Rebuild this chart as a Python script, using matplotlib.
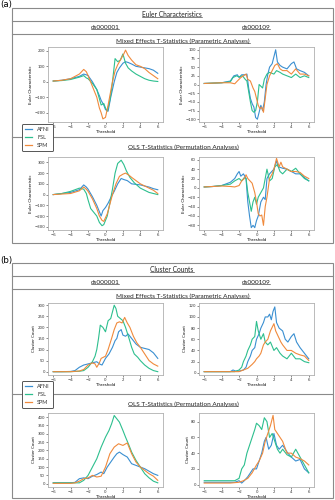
import matplotlib
matplotlib.use('Agg')
import matplotlib.pyplot as plt
from matplotlib.lines import Line2D
from matplotlib.patches import Rectangle
import numpy as np

W, H = 335, 500

SOFTWARE = ['AFNI', 'FSL', 'SPM']
COLORS = ['#3a8fd1', '#2dbf8e', '#f08a3c']
DATASETS = ['ds000001', 'ds000109']
ROWS = ['Mixed Effects T-Statistics (Parametric Analyses)',
        'OLS T-Statistics (Permutation Analyses)']

# ---- (a) Euler characteristics: (threshold, value) pairs ----
EC_ME_DS1_AFNI = [(-6,5),(-5,10),(-4,20),(-3,35),(-2.5,50),(-2.2,45),(-2,40),(-1.5,0),(-1,-50),(-0.7,-90),(-0.5,-120),(-0.2,-150),(0,-180),(0.3,-190),(0.6,-100),(1,0),(1.3,60),(1.6,90),(2,120),(2.3,130),(2.6,125),(3,115),(3.5,100),(4,95),(4.5,90),(5,85),(5.5,75),(6,55)]
EC_ME_DS1_FSL = [(-6,5),(-5,8),(-4,15),(-3,30),(-2.5,40),(-2.2,25),(-2,20),(-1.5,-10),(-1,-50),(-0.7,-110),(-0.5,-150),(-0.2,-140),(0,-170),(0.2,-190),(0.5,-120),(0.7,-50),(1,100),(1.1,150),(1.4,130),(1.7,140),(2,180),(2.3,120),(2.6,90),(3,70),(3.5,50),(4,35),(4.5,20),(5,10),(5.5,5),(6,2)]
EC_ME_DS1_SPM = [(-6,5),(-5,10),(-4,20),(-3,50),(-2.5,80),(-2.2,65),(-2,40),(-1.5,-30),(-1,-100),(-0.7,-170),(-0.5,-200),(-0.3,-240),(0,-230),(0.3,-150),(0.6,-60),(0.8,0),(1.1,70),(1.4,110),(1.8,150),(2.1,180),(2.3,205),(2.6,170),(3,140),(3.5,110),(4,100),(4.5,85),(5,60),(5.5,40),(6,20)]

EC_ME_DS2_AFNI = [(-6,3),(-5,4),(-4,5),(-3,10),(-2.6,25),(-2.2,28),(-2,20),(-1.7,28),(-1.3,28),(-1.1,30),(-0.9,-10),(-0.7,-40),(-0.5,-55),(-0.3,-65),(-0.1,-95),(0.1,-100),(0.3,-80),(0.5,-60),(0.7,-75),(0.9,-50),(1.1,0),(1.3,30),(1.5,50),(1.8,60),(2.2,100),(2.4,65),(2.7,55),(3,50),(3.5,45),(4,60),(4.3,65),(4.6,45),(5,40),(5.5,35),(6,25)]
EC_ME_DS2_FSL = [(-6,3),(-5,4),(-4,5),(-3,8),(-2.7,20),(-2.3,25),(-2,22),(-1.6,25),(-1.3,15),(-1.1,10),(-0.9,-20),(-0.7,-50),(-0.5,-75),(-0.3,-80),(-0.1,-75),(0.1,-50),(0.3,0),(0.5,-5),(0.7,-10),(0.9,15),(1.2,30),(1.5,35),(2,30),(2.3,40),(2.7,35),(3,30),(3.5,25),(4,20),(4.5,30),(5,20),(5.5,25),(6,20)]
EC_ME_DS2_SPM = [(-6,3),(-5,4),(-4,5),(-3,5),(-2.5,2),(-2.2,10),(-1.8,20),(-1.5,25),(-1.2,30),(-1,15),(-0.7,10),(-0.4,-10),(-0.2,-20),(0,-40),(0.2,-60),(0.4,-70),(0.6,-65),(0.8,-80),(1,-40),(1.2,0),(1.5,25),(1.8,40),(2.1,55),(2.4,60),(2.7,45),(3,40),(3.5,40),(4,30),(4.5,45),(5,30),(5.5,30),(6,25)]

EC_OLS_DS1_AFNI = [(-6,0),(-5,10),(-4,20),(-3,45),(-2.5,90),(-2.2,70),(-2,50),(-1.5,-20),(-1,-100),(-0.7,-160),(-0.5,-200),(-0.3,-150),(0,-120),(0.3,-80),(0.6,-30),(1,30),(1.4,100),(1.8,150),(2.1,140),(2.5,130),(3,100),(3.5,95),(4,90),(4.5,80),(5,70),(5.5,55),(6,45)]
EC_OLS_DS1_FSL = [(-6,0),(-5,10),(-4,30),(-3,60),(-2.5,50),(-2.2,10),(-2,-50),(-1.7,-130),(-1.5,-150),(-1,-200),(-0.7,-260),(-0.4,-290),(-0.2,-280),(0.2,-200),(0.5,-80),(0.8,50),(1.1,200),(1.4,290),(1.8,320),(2.1,280),(2.4,220),(2.8,160),(3.3,110),(4,60),(4.5,40),(5,20),(5.5,10),(6,0)]
EC_OLS_DS1_SPM = [(-6,0),(-5,5),(-4,10),(-3,35),(-2.5,70),(-2.2,50),(-2,30),(-1.5,-40),(-1,-130),(-0.7,-200),(-0.4,-240),(-0.2,-250),(0.2,-180),(0.5,-90),(0.8,0),(1.2,100),(1.6,170),(2,190),(2.3,200),(2.7,180),(3,160),(3.5,130),(4,100),(4.5,80),(5,60),(5.5,40),(6,10)]

EC_OLS_DS2_AFNI = [(-6,2),(-5,3),(-4,5),(-3,12),(-2.5,20),(-2.2,30),(-2,35),(-1.8,25),(-1.5,30),(-1.2,20),(-1,-30),(-0.8,-60),(-0.6,-85),(-0.4,-80),(-0.2,-85),(0,-70),(0.2,-60),(0.5,-30),(0.8,-20),(1,-25),(1.2,20),(1.5,30),(2,40),(2.3,58),(2.5,45),(3,42),(3.5,40),(4,35),(4.5,30),(5,30),(5.5,22),(6,15)]
EC_OLS_DS2_FSL = [(-6,2),(-5,3),(-4,5),(-3,8),(-2.5,15),(-2,20),(-1.7,15),(-1.4,22),(-1.2,20),(-1,-10),(-0.8,-30),(-0.6,-50),(-0.4,-30),(-0.2,-20),(0,-35),(0.2,-20),(0.5,-10),(0.8,0),(1.2,40),(1.5,15),(1.8,20),(2.1,45),(2.4,50),(2.7,35),(3,30),(3.5,40),(4,35),(4.5,42),(5,30),(5.5,20),(6,15)]
EC_OLS_DS2_SPM = [(-6,2),(-5,3),(-4,4),(-3,3),(-2.5,2),(-2,5),(-1.7,15),(-1.4,20),(-1.2,28),(-1,20),(-0.5,10),(-0.2,-10),(0,-30),(0.2,-55),(0.4,-60),(0.6,-58),(0.8,-80),(1,-40),(1.2,-20),(1.5,20),(1.8,30),(2,40),(2.3,63),(2.6,45),(2.8,55),(3,45),(3.5,40),(4,35),(4.5,35),(5,33),(5.5,25),(6,20)]

# ---- (b) cluster counts ----
CC_ME_DS1_AFNI = [(-6,0),(-5,0),(-4,1),(-3.5,5),(-3,20),(-2.5,30),(-2,35),(-1.5,40),(-1,45),(-0.7,35),(-0.4,30),(0,60),(0.4,80),(0.8,110),(1.1,140),(1.3,150),(1.5,180),(1.8,190),(2,165),(2.3,160),(2.6,170),(3,150),(3.5,125),(4,110),(4.5,105),(5,100),(5.5,85),(6,60)]
CC_ME_DS1_FSL = [(-6,0),(-5,0),(-4,0),(-3,2),(-2.5,5),(-2,20),(-1.5,45),(-1.2,70),(-1,100),(-0.8,150),(-0.6,210),(-0.3,200),(0,180),(0.3,230),(0.6,240),(0.8,270),(1,300),(1.2,285),(1.4,250),(1.7,240),(2,230),(2.3,200),(2.7,150),(3,110),(3.3,80),(3.7,65),(4,50),(4.5,30),(5,15),(5.5,5),(6,0)]
CC_ME_DS1_SPM = [(-6,0),(-5,0),(-4,0),(-3,3),(-2.5,10),(-2,30),(-1.5,40),(-1.2,35),(-1,20),(-0.7,40),(-0.5,60),(0,70),(0.3,100),(0.7,150),(1,190),(1.3,220),(1.6,225),(1.9,220),(2.2,245),(2.5,220),(2.8,200),(3.2,160),(3.6,130),(4,110),(4.5,80),(5,50),(5.5,35),(6,25)]

CC_ME_DS2_AFNI = [(-6,2),(-4,2),(-3,2),(-2.7,5),(-2.4,3),(-2,3),(-1.5,5),(-1.2,10),(-1,20),(-0.7,30),(-0.5,40),(-0.2,45),(0,60),(0.3,70),(0.5,80),(0.8,90),(1,100),(1.3,100),(1.5,105),(1.7,95),(1.9,110),(2.1,118),(2.3,90),(2.6,80),(3,75),(3.3,60),(3.6,55),(4,65),(4.3,70),(4.6,55),(5,45),(5.5,35),(6,25)]
CC_ME_DS2_FSL = [(-6,2),(-4,2),(-3,2),(-2.5,2),(-2,5),(-1.7,10),(-1.5,20),(-1.2,30),(-1,40),(-0.7,50),(-0.5,60),(-0.2,65),(0,92),(0.2,75),(0.5,60),(0.8,70),(1,55),(1.3,50),(1.6,55),(2,40),(2.3,45),(2.7,35),(3,30),(3.5,25),(4,35),(4.5,25),(5,25),(5.5,20),(6,18)]
CC_ME_DS2_SPM = [(-6,2),(-4,2),(-3,2),(-2,2),(-1.5,5),(-1,8),(-0.5,15),(-0.2,20),(0,25),(0.3,30),(0.5,35),(0.8,50),(1,55),(1.3,60),(1.6,75),(2,88),(2.2,75),(2.5,65),(2.8,55),(3,50),(3.5,40),(4,40),(4.5,35),(5,32),(5.5,30),(6,22)]

CC_OLS_DS1_AFNI = [(-6,5),(-5,5),(-4,5),(-3.5,8),(-3,30),(-2.5,35),(-2,30),(-1.5,45),(-1,55),(-0.5,70),(-0.2,60),(0.2,100),(0.6,130),(1,160),(1.3,180),(1.6,190),(2,175),(2.5,160),(3,120),(3.5,110),(4,100),(4.5,90),(5,75),(5.5,60),(6,50)]
CC_OLS_DS1_FSL = [(-6,5),(-5,5),(-4,5),(-3,5),(-2.5,20),(-2,50),(-1.5,100),(-1,150),(-0.5,220),(0,280),(0.4,320),(0.7,360),(1,410),(1.3,390),(1.6,370),(2,320),(2.3,280),(2.7,230),(3,190),(3.5,140),(4,100),(4.5,60),(5,35),(5.5,15),(6,5)]
CC_OLS_DS1_SPM = [(-6,2),(-5,2),(-4,2),(-3.5,5),(-3,15),(-2.5,30),(-2,35),(-1.5,50),(-1,40),(-0.5,45),(0,100),(0.5,180),(1,220),(1.5,240),(2,230),(2.5,245),(3,180),(3.5,130),(4,100),(4.5,80),(5,60),(5.5,45),(6,20)]

CC_OLS_DS2_AFNI = [(-6,3),(-4,3),(-3,3),(-2.5,3),(-2,5),(-1.7,2),(-1.4,5),(-1,10),(-0.7,15),(-0.4,20),(0,20),(0.3,30),(0.6,40),(0.9,55),(1.1,60),(1.4,45),(1.7,50),(2,65),(2.3,50),(2.6,45),(3,50),(3.3,45),(3.6,40),(4,35),(4.5,30),(5,32),(5.5,20),(6,15)]
CC_OLS_DS2_FSL = [(-6,5),(-4,5),(-3,5),(-2.5,5),(-2,8),(-1.7,20),(-1.4,25),(-1.1,40),(-0.8,50),(-0.5,60),(-0.2,70),(0,78),(0.3,75),(0.6,70),(0.9,85),(1.2,80),(1.5,60),(1.8,65),(2.1,55),(2.4,45),(2.7,40),(3,45),(3.5,38),(4,35),(4.5,45),(5,35),(5.5,25),(6,15)]
CC_OLS_DS2_SPM = [(-6,2),(-4,2),(-3,2),(-2,3),(-1.5,5),(-1,8),(-0.5,15),(0,25),(0.3,30),(0.7,40),(1,55),(1.3,65),(1.6,75),(1.9,88),(2.1,70),(2.4,65),(2.7,60),(3,55),(3.5,40),(4,40),(4.5,35),(5,33),(5.5,30),(6,25)]

EC_YTICKS = [[-200, -100, 0, 100, 200], [-100, -75, -50, -25, 0, 25, 50, 75, 100],
             [-300, -200, -100, 0, 100, 200, 300], [-80, -60, -40, -20, 0, 20, 40, 60]]
CC_YTICKS = [[0, 50, 100, 150, 200, 250, 300], [0, 20, 40, 60, 80, 100, 120],
             [0, 50, 100, 150, 200, 250, 300, 350, 400], [0, 20, 40, 60, 80]]
EC_YLIM = [(-260, 225), (-108, 108), (-330, 350), (-90, 66)]
CC_YLIM = [(-15, 310), (-4, 125), (-20, 425), (-3, 91)]

fig = plt.figure(figsize=(W / 100, H / 100), dpi=100)
fig.patch.set_facecolor('white')

GRAY = '#8a8a8a'
HEAD_FONT = 'Lato'
underlined = []


def fx(x):
    return x / W


def fy(y):
    return 1 - y / H


def hline(x0, x1, y):
    fig.add_artist(Line2D([fx(x0), fx(x1)], [fy(y), fy(y)], color=GRAY, lw=0.8))


def header(x, y, s, size=4.6):
    t = fig.text(fx(x), fy(y), s, ha='center', va='center', fontsize=size,
                 family=HEAD_FONT, color='#222222')
    underlined.append(t)


def panel(rect, series, yticks, ylim, ylabel):
    ax = fig.add_axes(rect)
    for data, c in zip(series, COLORS):
        xs, ys = zip(*data)
        ax.plot(xs, ys, color=c, lw=0.8)
    ax.set_xlim(-6.6, 6.6)
    ax.set_xticks([-6, -4, -2, 0, 2, 4, 6])
    ax.set_yticks(yticks)
    ax.set_ylim(ylim)
    ax.tick_params(labelsize=2.8, length=1.2, width=0.4, pad=1, colors='#333333')
    for sp in ax.spines.values():
        sp.set_color('#b0b0b0')
        sp.set_linewidth(0.6)
    ax.set_xlabel('Threshold', fontsize=2.8, labelpad=1)
    ax.set_ylabel(ylabel, fontsize=2.8, labelpad=1)
    return ax


def part(top, label, title, panels, yticks, ylims, ylabel, ax_tops, legend_y, sep_y, bottom):
    fig.text(fx(0), fy(top - 3), label, fontsize=6.2, va='center', ha='left')
    fig.add_artist(Rectangle((fx(12), fy(bottom)), fx(333) - fx(12), fy(top) - fy(bottom),
                             fill=False, edgecolor=GRAY, lw=0.8))
    hline(12, 333, top + 13)
    hline(12, 333, top + 26)
    hline(12, 333, sep_y)
    header(172, top + 6.5, title, 4.8)
    header(105, top + 19.5, DATASETS[0])
    header(256, top + 19.5, DATASETS[1])
    header(183, top + 33, ROWS[0])
    header(183, sep_y + 10, ROWS[1])
    lefts = [48, 199]
    for i, series in enumerate(panels):
        r, c = divmod(i, 2)
        t0, t1 = ax_tops[r]
        rect = [fx(lefts[c]), fy(t1), (115) / W, (t1 - t0) / H]
        panel(rect, series, yticks[i], ylims[i], ylabel)
    handles = [Line2D([], [], color=col, lw=0.9) for col in COLORS]
    leg = fig.legend(handles, SOFTWARE, loc='upper left',
                     bbox_to_anchor=(fx(22), fy(legend_y)),
                     handlelength=1.3, handletextpad=0.9, labelspacing=0.55,
                     borderpad=0.55, borderaxespad=0, fancybox=True, framealpha=1,
                     edgecolor='#555555', prop={'family': HEAD_FONT, 'size': 4.0})
    leg.get_frame().set_linewidth(0.7)
    for t in leg.get_texts():
        t.set_color('#333333')


EC_PANELS = [
    [EC_ME_DS1_AFNI, EC_ME_DS1_FSL, EC_ME_DS1_SPM],
    [EC_ME_DS2_AFNI, EC_ME_DS2_FSL, EC_ME_DS2_SPM],
    [EC_OLS_DS1_AFNI, EC_OLS_DS1_FSL, EC_OLS_DS1_SPM],
    [EC_OLS_DS2_AFNI, EC_OLS_DS2_FSL, EC_OLS_DS2_SPM],
]
CC_PANELS = [
    [CC_ME_DS1_AFNI, CC_ME_DS1_FSL, CC_ME_DS1_SPM],
    [CC_ME_DS2_AFNI, CC_ME_DS2_FSL, CC_ME_DS2_SPM],
    [CC_OLS_DS1_AFNI, CC_OLS_DS1_FSL, CC_OLS_DS1_SPM],
    [CC_OLS_DS2_AFNI, CC_OLS_DS2_FSL, CC_OLS_DS2_SPM],
]

part(8, '(a)', 'Euler Characteristics', EC_PANELS, EC_YTICKS, EC_YLIM,
     'Euler Characteristic', [(47, 122), (157, 230)], 124, 137, 243)
part(263, '(b)', 'Cluster Counts', CC_PANELS, CC_YTICKS, CC_YLIM,
     'Cluster Count', [(303, 375), (413, 487)], 381, 394, 498)

# underline the header texts
fig.canvas.draw()
r = fig.canvas.get_renderer()
inv = fig.transFigure.inverted()
for t in underlined:
    bb = t.get_window_extent(r)
    (x0, y0), (x1, _) = inv.transform([(bb.x0, bb.y0), (bb.x1, bb.y1)])
    fig.add_artist(Line2D([x0, x1], [y0 + 0.0015, y0 + 0.0015], color='#222222', lw=0.4))

fig.savefig('out.png', dpi=100)
